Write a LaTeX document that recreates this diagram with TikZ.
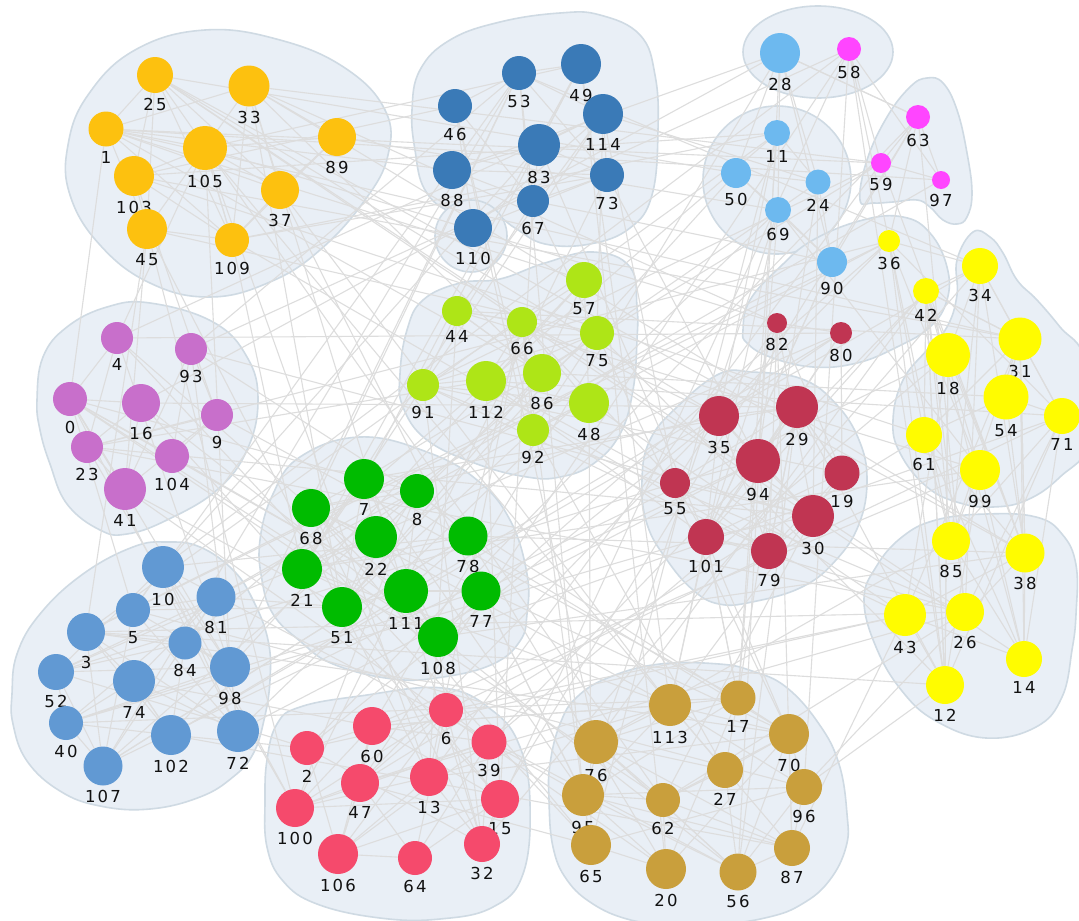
\documentclass[tikz,border=0pt]{standalone}
\usepackage{fontspec}
\newfontfamily\lblfont[LetterSpace=13]{DejaVu Sans}
\pgfdeclarelayer{hulls}
\pgfdeclarelayer{edges}
\pgfsetlayers{hulls,edges,main}

\definecolor{cOrange}{HTML}{FDC10F}
\definecolor{cNavy}{HTML}{3A7AB7}
\definecolor{cSky}{HTML}{6DB9EF}
\definecolor{cMagenta}{HTML}{FF45FF}
\definecolor{cYellow}{HTML}{FFFC00}
\definecolor{cCrimson}{HTML}{C03552}
\definecolor{cOrchid}{HTML}{C86FCB}
\definecolor{cGreen}{HTML}{00BB00}
\definecolor{cLime}{HTML}{AEE517}
\definecolor{cBlue}{HTML}{6199D3}
\definecolor{cRed}{HTML}{F54A6C}
\definecolor{cGold}{HTML}{C99F3C}
\definecolor{hullfill}{HTML}{E9EFF6}
\definecolor{hullline}{HTML}{CFDAE3}
\definecolor{edgegray}{HTML}{DDDDDD}
\definecolor{labelink}{HTML}{111111}

\tikzset{
  vertex/.style={circle, inner sep=0pt, draw=none},
  lbl/.style={font=\lblfont\fontsize{16.5}{18}\selectfont, text=labelink, inner sep=1.5pt},
  hull/.style={fill=hullfill, draw=hullline, line width=1.6pt},
  edge/.style={draw=edgegray, line width=1.1pt},
}

% \vtx{id}{x}{y}{radius}{colour}
\newcommand\vtx[5]{\node[vertex, fill=#5, minimum size=2*#4pt, label={[lbl]below:#1}] (n#1) at (#2,#3) {};}

% links inside one community, each pair kept with a fixed probability
\newcommand\groupedges[2]{%
  \foreach \a [count=\i] in {#2}{%
    \foreach \b [count=\j] in {#2}{%
      \ifnum\j>\i
        \pgfmathtruncatemacro\keep{rnd<#1}%
        \ifnum\keep=1 \draw[edge] (n\a) -- (n\b);\fi
      \fi}}}

\begin{document}
\begin{tikzpicture}[x=1pt, y=-1pt, label distance=3pt]
\useasboundingbox (0,0) rectangle (1079,921);

% ---------- vertices ----------
% orange community
\vtx{25}{155}{75}{18}{cOrange}
\vtx{33}{249}{86}{20.5}{cOrange}
\vtx{1}{106}{129}{17.5}{cOrange}
\vtx{105}{205}{148}{22}{cOrange}
\vtx{89}{337}{137}{19}{cOrange}
\vtx{103}{134}{176}{20}{cOrange}
\vtx{37}{280}{190}{19}{cOrange}
\vtx{45}{147}{229}{20}{cOrange}
\vtx{109}{232}{240}{17}{cOrange}
% navy community
\vtx{53}{519}{73}{17}{cNavy}
\vtx{49}{581}{64}{20}{cNavy}
\vtx{46}{455}{106}{17}{cNavy}
\vtx{114}{603}{114}{20}{cNavy}
\vtx{83}{539}{145}{21}{cNavy}
\vtx{88}{452}{170}{19}{cNavy}
\vtx{73}{607}{175}{17}{cNavy}
\vtx{67}{533}{201}{16}{cNavy}
\vtx{110}{473}{228}{19}{cNavy}
% sky community
\vtx{28}{780}{53}{20}{cSky}
\vtx{11}{777}{133}{13}{cSky}
\vtx{50}{736}{173}{15}{cSky}
\vtx{24}{818}{182}{12.5}{cSky}
\vtx{69}{778}{210}{13}{cSky}
\vtx{90}{832}{262}{15}{cSky}
% magenta community
\vtx{58}{849}{49}{12}{cMagenta}
\vtx{63}{918}{117}{12}{cMagenta}
\vtx{59}{881}{163}{10}{cMagenta}
\vtx{97}{941}{180}{9}{cMagenta}
% yellow community
\vtx{36}{889}{241}{11}{cYellow}
\vtx{42}{926}{291}{13}{cYellow}
\vtx{34}{980}{266}{18}{cYellow}
\vtx{18}{948}{355}{22}{cYellow}
\vtx{31}{1020}{339}{21.5}{cYellow}
\vtx{54}{1006}{397}{22.5}{cYellow}
\vtx{71}{1062}{416}{18}{cYellow}
\vtx{61}{924}{435}{18}{cYellow}
\vtx{99}{980}{470}{20}{cYellow}
\vtx{85}{951}{541}{19}{cYellow}
\vtx{38}{1025}{553}{19.5}{cYellow}
\vtx{43}{905}{615}{21}{cYellow}
\vtx{26}{965}{612}{19}{cYellow}
\vtx{14}{1024}{659}{18}{cYellow}
\vtx{12}{945}{685}{19}{cYellow}
% crimson community
\vtx{82}{777}{323}{10}{cCrimson}
\vtx{80}{841}{333}{11}{cCrimson}
\vtx{35}{719}{416}{20}{cCrimson}
\vtx{29}{797}{407}{21}{cCrimson}
\vtx{94}{758}{461}{22}{cCrimson}
\vtx{19}{842}{473}{17.5}{cCrimson}
\vtx{55}{675}{483}{15}{cCrimson}
\vtx{30}{813}{516}{21}{cCrimson}
\vtx{101}{706}{537}{18}{cCrimson}
\vtx{79}{769}{551}{18}{cCrimson}
% orchid community
\vtx{4}{117}{338}{16}{cOrchid}
\vtx{93}{191}{349}{16}{cOrchid}
\vtx{0}{70}{399}{17}{cOrchid}
\vtx{16}{141}{403}{19}{cOrchid}
\vtx{9}{217}{415}{16}{cOrchid}
\vtx{23}{87}{447}{16}{cOrchid}
\vtx{104}{172}{456}{17}{cOrchid}
\vtx{41}{125}{489}{21}{cOrchid}
% green community
\vtx{7}{364}{479}{20}{cGreen}
\vtx{8}{417}{491}{17}{cGreen}
\vtx{68}{311}{508}{19}{cGreen}
\vtx{22}{376}{537}{21}{cGreen}
\vtx{78}{468}{536}{19.5}{cGreen}
\vtx{21}{302}{569}{20}{cGreen}
\vtx{111}{406}{591}{22}{cGreen}
\vtx{77}{481}{591}{19.5}{cGreen}
\vtx{51}{342}{607}{20}{cGreen}
\vtx{108}{438}{637}{20}{cGreen}
% lime community
\vtx{57}{584}{280}{18}{cLime}
\vtx{44}{457}{311}{15}{cLime}
\vtx{66}{522}{322}{15}{cLime}
\vtx{75}{597}{333}{17}{cLime}
\vtx{91}{423}{385}{16}{cLime}
\vtx{112}{486}{381}{20}{cLime}
\vtx{86}{542}{373}{19}{cLime}
\vtx{48}{589}{403}{20}{cLime}
\vtx{92}{533}{430}{16}{cLime}
% blue community
\vtx{10}{163}{567}{21}{cBlue}
\vtx{81}{216}{597}{19.5}{cBlue}
\vtx{5}{133}{610}{17}{cBlue}
\vtx{3}{86}{632}{19}{cBlue}
\vtx{84}{185}{643}{16.5}{cBlue}
\vtx{52}{56}{672}{18}{cBlue}
\vtx{74}{134}{681}{21}{cBlue}
\vtx{98}{230}{667}{20}{cBlue}
\vtx{40}{66}{723}{17}{cBlue}
\vtx{102}{171}{735}{20}{cBlue}
\vtx{72}{238}{731}{21}{cBlue}
\vtx{107}{103}{766}{19.5}{cBlue}
% red community
\vtx{6}{446}{710}{17}{cRed}
\vtx{60}{372}{726}{19}{cRed}
\vtx{39}{489}{742}{17.5}{cRed}
\vtx{2}{307}{748}{17}{cRed}
\vtx{47}{360}{783}{19}{cRed}
\vtx{13}{429}{777}{19}{cRed}
\vtx{15}{500}{799}{19}{cRed}
\vtx{100}{295}{808}{19}{cRed}
\vtx{106}{338}{854}{20}{cRed}
\vtx{64}{415}{858}{17}{cRed}
\vtx{32}{482}{844}{18}{cRed}
% gold community
\vtx{113}{670}{705}{21}{cGold}
\vtx{17}{738}{698}{17.5}{cGold}
\vtx{76}{596}{742}{22}{cGold}
\vtx{70}{789}{734}{20}{cGold}
\vtx{27}{725}{770}{18}{cGold}
\vtx{95}{583}{795}{21}{cGold}
\vtx{62}{663}{800}{17}{cGold}
\vtx{96}{804}{787}{18}{cGold}
\vtx{65}{591}{845}{20}{cGold}
\vtx{87}{792}{848}{18}{cGold}
\vtx{20}{666}{869}{20}{cGold}
\vtx{56}{738}{872}{18.5}{cGold}

% ---------- community hulls ----------
\begin{pgfonlayer}{hulls}
\fill[white] (0,0) rectangle (1079,921);
\draw[hull] plot[smooth cycle, tension=0.7] coordinates {(205,30) (280,40) (345,68) (385,110) (388,155) (365,200) (320,250) (270,282) (210,297) (150,283) (100,245) (70,195) (68,145) (88,95) (135,50)};
\draw[hull] plot[smooth cycle, tension=0.7] coordinates {(412,110) (420,70) (450,40) (500,22) (560,13) (600,15) (640,35) (655,75) (658,130) (652,195) (630,228) (590,244) (545,244) (515,228) (490,212) (452,212) (425,190) (415,150)};
\draw[hull] (471,236) circle[radius=36];
\draw[hull] (818,52) ellipse[x radius=75, y radius=46];
\draw[hull] (777,180) circle[radius=74];
\draw[hull] plot[smooth cycle, tension=0.7] coordinates {(860,200) (867,160) (887,117) (910,87) (927,78) (943,83) (957,110) (967,153) (972,193) (967,217) (957,224) (943,220) (930,207) (917,200) (893,202) (873,203)};
\draw[hull] plot[smooth cycle, tension=0.7] coordinates {(743,330) (750,300) (780,267) (813,240) (863,220) (903,217) (930,233) (947,267) (947,300) (930,327) (897,347) (857,363) (813,367) (770,357) (747,343)};
\draw[hull] plot[smooth cycle, tension=0.7] coordinates {(957,260) (973,232) (990,237) (1003,253) (1017,280) (1037,300) (1060,327) (1085,360) (1090,440) (1060,477) (1027,500) (993,507) (960,503) (927,487) (900,453) (893,420) (903,380) (927,350) (947,327) (957,295)};
\draw[hull] plot[smooth cycle, tension=0.7] coordinates {(864,600) (876,567) (902,537) (936,520) (986,514) (1036,517) (1062,534) (1076,565) (1076,614) (1072,650) (1062,697) (1036,727) (986,738) (936,721) (902,691) (876,647)};
\draw[hull] plot[smooth cycle, tension=0.7] coordinates {(37,400) (43,357) (67,327) (107,307) (150,303) (213,322) (247,357) (258,400) (247,450) (217,490) (167,520) (127,534) (100,530) (67,504) (50,464) (40,430)};
\draw[hull] plot[smooth cycle, tension=0.7] coordinates {(360,437) (427,452) (477,480) (510,520) (527,574) (527,614) (520,641) (493,664) (443,677) (393,679) (333,664) (300,641) (273,614) (262,580) (260,540) (273,494) (300,457)};
\draw[hull] plot[smooth cycle, tension=0.7] coordinates {(423,300) (460,283) (500,279) (545,263) (593,252) (630,267) (637,307) (637,340) (633,390) (620,434) (593,464) (560,477) (527,477) (477,464) (427,440) (403,407) (400,374) (407,330)};
\draw[hull] plot[smooth cycle, tension=0.7] coordinates {(719,374) (752,372) (802,379) (836,404) (859,440) (867,480) (859,524) (836,560) (802,587) (752,602) (719,604) (693,590) (667,560) (647,524) (642,480) (650,440) (677,407)};
\draw[hull] plot[smooth cycle, tension=0.7] coordinates {(40,614) (83,574) (133,547) (167,542) (200,547) (233,570) (253,600) (268,640) (270,680) (264,720) (253,754) (233,777) (200,797) (150,809) (100,806) (60,791) (27,761) (13,724) (12,694) (17,654)};
\draw[hull] plot[smooth cycle, tension=0.7] coordinates {(265,801) (267,760) (277,724) (300,707) (360,696) (443,688) (493,711) (520,747) (530,804) (523,874) (493,907) (440,919) (380,918) (317,904) (283,881) (267,847)};
\draw[hull] plot[smooth cycle, tension=0.7] coordinates {(560,724) (577,697) (610,677) (660,664) (719,664) (752,671) (786,687) (819,724) (839,764) (847,814) (846,847) (829,881) (802,904) (769,917) (720,924) (660,923) (627,919) (593,904) (567,880) (553,847) (549,800) (550,764)};
\end{pgfonlayer}

% ---------- links ----------
\begin{pgfonlayer}{edges}
\pgfmathsetseed{4217}
\groupedges{0.6}{25,33,1,105,89,103,37,45,109}
\groupedges{0.6}{53,49,46,114,83,88,73,67,110}
\groupedges{0.7}{28,11,50,24,69,90}
\groupedges{0.9}{58,63,59,97}
\groupedges{0.45}{36,42,34,18,31,54,71,61,99,85,38,43,26,14,12}
\groupedges{0.6}{82,80,35,29,94,19,55,30,101,79}
\groupedges{0.6}{4,93,0,16,9,23,104,41}
\groupedges{0.6}{7,8,68,22,78,21,111,77,51,108}
\groupedges{0.6}{57,44,66,75,91,112,86,48,92}
\groupedges{0.55}{10,81,5,3,84,52,74,98,40,102,72,107}
\groupedges{0.55}{6,60,39,2,47,13,15,100,106,64,32}
\groupedges{0.55}{113,17,76,70,27,95,62,96,65,87,20,56}
% links between communities
\foreach \k in {1,...,270}{%
  \pgfmathrandominteger{\a}{0}{114}%
  \pgfmathrandominteger{\b}{0}{114}%
  \ifnum\a=\b\else\draw[edge] (n\a) -- (n\b);\fi}
\end{pgfonlayer}
\end{tikzpicture}
\end{document}
